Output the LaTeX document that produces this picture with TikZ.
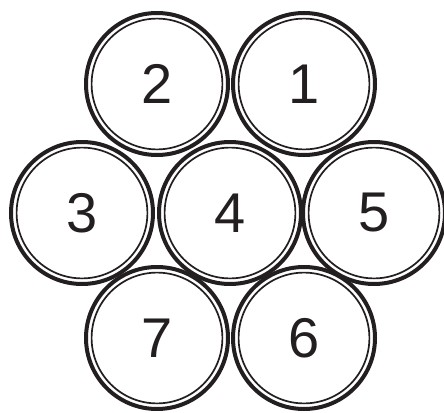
\documentclass[tikz,border=0pt]{standalone}
\usepackage{fontspec}
\setmainfont{Liberation Sans}
\definecolor{ink}{HTML}{231F20}
\begin{document}
\begin{tikzpicture}[x=1pt,y=-1pt,
  ring/.style={circle,draw=ink,fill=white,line width=4pt,minimum size=142pt,inner sep=0pt,
    text=ink,font=\fontsize{56}{60}\selectfont},
  innerring/.style={draw=ink,line width=1.7pt}]
\useasboundingbox (0,0) rectangle (444,412);
\foreach \n/\x/\y in {2/157/84,1/304/84,3/82/213,5/374/213,4/230/213,7/157/338,6/304/338}{
  \node[ring] (c\n) at (\x,\y) {\raisebox{-3pt}{\n}};
  \draw[innerring] (c\n.center) circle[radius=65.4pt];
}
\end{tikzpicture}
\end{document}
